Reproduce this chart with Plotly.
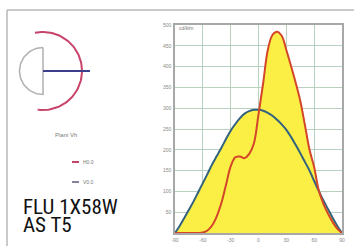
import numpy as np
import plotly.graph_objects as go

# ---- data ----
angles = [-90, -85, -80, -75, -70, -65, -60, -55, -50, -45, -40, -35, -30, -25, -20, -15, -10, -5,
          0, 5, 10, 15, 20, 25, 30, 35, 40, 45, 50, 55, 60, 65, 70, 75, 80, 85, 90]
red_c0 = [0, 0, 0, 0, 0, 0, 1, 6, 18, 40, 72, 116, 160, 182, 184, 180, 190, 215,
          285, 360, 440, 476, 484, 474, 440, 402, 362, 318, 260, 200, 158, 102, 70, 46, 26, 10, 0]
blue_c90 = [0, 17, 36, 56, 76, 98, 120, 142, 165, 185, 205, 226, 246, 262, 276, 287, 293, 296,
            296, 294, 289, 282, 272, 261, 248, 231, 212, 192, 171, 150, 125, 101, 78, 57, 36, 17, 0]
x_ticks = [-90, -60, -30, 0, 30, 60, 90]
y_ticks = [50, 100, 150, 200, 250, 300, 350, 400, 450, 500]
title_lines = ["FLU 1X58W", "AS T5"]

W, H = 354, 246
YELLOW = "#FBEF45"
RED = "#D4462A"
BLUE = "#33627E"
GRID = "#B9D2BF"

fig = go.Figure()

# fills (same opaque yellow -> union of both areas)
for ys in (blue_c90, red_c0):
    fig.add_trace(go.Scatter(x=angles, y=ys, mode="lines", line=dict(width=0, shape="spline"),
                             fill="tozeroy", fillcolor=YELLOW, hoverinfo="skip", showlegend=False))
fig.add_trace(go.Scatter(x=angles, y=blue_c90, mode="lines",
                         line=dict(color=BLUE, width=2, shape="spline"), showlegend=False))
fig.add_trace(go.Scatter(x=angles, y=red_c0, mode="lines",
                         line=dict(color=RED, width=2, shape="spline"), showlegend=False))

# ---- left icon on a pixel-coordinate side axis ----
LW = 140
cx, cy = 43, 71
t = np.linspace(np.pi / 2, 3 * np.pi / 2, 60)
r_lum = 23.5
fig.add_trace(go.Scatter(x=list(cx + r_lum * np.cos(t)) + [cx, cx + r_lum * np.cos(t[0])],
                         y=list(cy - r_lum * np.sin(t)) + [cy + r_lum, cy - r_lum * np.sin(t[0])],
                         mode="lines", line=dict(color="#B0B0B0", width=1.5),
                         xaxis="x2", yaxis="y2", showlegend=False, hoverinfo="skip"))
ta = np.linspace(np.radians(102), np.radians(-98), 80)
r_arc = 39
fig.add_trace(go.Scatter(x=cx + r_arc * np.cos(ta), y=cy - r_arc * np.sin(ta), mode="lines",
                         line=dict(color="#C8436A", width=2), xaxis="x2", yaxis="y2",
                         showlegend=False, hoverinfo="skip"))
fig.add_trace(go.Scatter(x=[cx, 90], y=[cy, cy], mode="lines", line=dict(color="#3B3F8C", width=2),
                         xaxis="x2", yaxis="y2", showlegend=False, hoverinfo="skip"))
# legend lines
fig.add_trace(go.Scatter(x=[72, 79], y=[162, 162], mode="lines", line=dict(color="#C8436A", width=2),
                         xaxis="x2", yaxis="y2", showlegend=False, hoverinfo="skip"))
fig.add_trace(go.Scatter(x=[72, 79], y=[182, 182], mode="lines", line=dict(color="#5A5A7A", width=1.5),
                         xaxis="x2", yaxis="y2", showlegend=False, hoverinfo="skip"))

x0, x1 = 175, 342
yt, yb = 25, 233
tickfont = dict(size=5, color="#888", family="Liberation Sans")
fig.update_layout(
    width=W, height=H, margin=dict(l=0, r=0, t=0, b=0),
    paper_bgcolor="white", plot_bgcolor="white",
    xaxis=dict(domain=[x0 / W, x1 / W], range=[-90, 90], tickvals=x_ticks,
               ticktext=[str(v) for v in x_ticks], showgrid=True, gridcolor=GRID, gridwidth=1,
               zeroline=False, showline=True, mirror=True, linecolor="#A8A8A8", linewidth=1.5,
               ticks="", tickfont=tickfont, ticklabelstandoff=1, automargin=False),
    yaxis=dict(domain=[(H - yb) / H, (H - yt) / H], range=[0, 500], tickvals=y_ticks,
               showgrid=True, gridcolor=GRID, gridwidth=1, zeroline=False, showline=True, mirror=True,
               linecolor="#A8A8A8", linewidth=1.5, ticks="",
               tickfont=tickfont, ticklabelstandoff=1, automargin=False),
    xaxis2=dict(domain=[0, LW / W], range=[0, LW], visible=False, anchor="y2"),
    yaxis2=dict(domain=[0, 1], range=[H, 0], visible=False, anchor="x2"),
    showlegend=False,
)

# outer frame (top and left edges)
fig.add_shape(type="line", xref="paper", yref="paper", x0=7 / W, x1=1.0, y0=(H - 10) / H, y1=(H - 10) / H,
              line=dict(color="#B8B8B8", width=1.5))
fig.add_shape(type="line", xref="paper", yref="paper", x0=7 / W, x1=7 / W, y0=0, y1=(H - 10) / H,
              line=dict(color="#B8B8B8", width=1.5))

small = dict(size=5, color="#777", family="Liberation Sans")
fig.add_annotation(x=177 / W, y=(H - 28) / H, xref="paper", yref="paper", text="cd/klm", showarrow=False,
                   xanchor="left", yanchor="middle", font=small)
fig.add_annotation(x=66, y=135, xref="x2", yref="y2", text="Piani Vh", showarrow=False,
                   xanchor="center", yanchor="middle", font=dict(size=6, color="#777", family="Liberation Sans"))
fig.add_annotation(x=81, y=162, xref="x2", yref="y2", text="H0.0", showarrow=False,
                   xanchor="left", yanchor="middle", font=small)
fig.add_annotation(x=81, y=182, xref="x2", yref="y2", text="V0.0", showarrow=False,
                   xanchor="left", yanchor="middle", font=small)
big = dict(size=21, color="#111", family="Liberation Sans Narrow, Arial Narrow, Roboto Condensed, Liberation Sans")
fig.add_annotation(x=21, y=207, xref="x2", yref="y2", text=title_lines[0], showarrow=False,
                   xanchor="left", yanchor="middle", font=big)
fig.add_annotation(x=21, y=225, xref="x2", yref="y2", text=title_lines[1], showarrow=False,
                   xanchor="left", yanchor="middle", font=big)

fig.write_html("out.html", config={"displayModeBar": False},
               post_script="document.body.style.margin='0';")
